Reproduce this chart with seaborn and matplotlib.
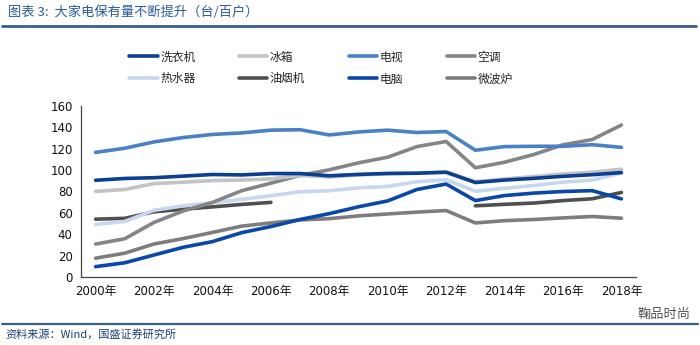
import matplotlib
matplotlib.use("Agg")
import matplotlib.pyplot as plt
import seaborn as sns
import numpy as np
import pandas as pd
from matplotlib.lines import Line2D

years = list(range(2000, 2019))
tick_labels = [f"{y}年" for y in years]

washer = [90.5, 92.2, 92.9, 94.4, 95.9, 95.5, 96.8, 96.8, 94.7, 96.0, 96.9, 97.1, 98.0, 88.4, 90.7, 92.3, 94.2, 95.7, 97.7]
fridge = [80.1, 81.9, 87.4, 88.7, 90.2, 90.7, 91.8, 95.0, 93.6, 95.4, 96.6, 97.2, 98.5, 89.2, 91.7, 94.0, 96.4, 98.0, 100.9]
tv = [116.6, 120.5, 126.4, 130.5, 133.4, 134.8, 137.4, 137.8, 132.9, 135.7, 137.4, 135.2, 136.1, 118.6, 122.0, 122.3, 122.3, 123.8, 121.3]
ac = [30.8, 35.8, 51.1, 61.8, 69.8, 80.7, 87.8, 95.1, 100.3, 106.8, 112.1, 122.0, 126.8, 102.2, 107.4, 114.6, 123.7, 128.6, 142.2]
heater = [49.1, 52.0, 62.4, 66.6, 69.4, 72.7, 76.0, 79.8, 80.7, 83.4, 84.8, 89.1, 91.0, 80.3, 83.0, 85.6, 88.7, 90.7, 97.2]
hood = [54.1, 54.9, 61.0, 63.4, 65.6, 67.9, 69.8, None, None, None, None, None, None, 66.6, 68.0, 69.2, 71.5, 73.2, 79.1]
computer = [9.7, 13.3, 20.6, 27.8, 33.1, 41.5, 47.2, 53.8, 59.3, 65.7, 71.2, 81.9, 87.0, 71.5, 76.2, 78.5, 80.0, 80.8, 73.1]
microwave = [17.6, 22.3, 30.9, 36.0, 41.7, 47.6, 50.6, 53.4, 54.6, 57.2, 59.0, 60.7, 62.2, 50.6, 52.7, 53.8, 55.3, 56.6, 55.0]

names = ["洗衣机", "冰箱", "电视", "空调", "热水器", "油烟机", "电脑", "微波炉"]
series = [washer, fridge, tv, ac, heater, hood, computer, microwave]
colors = ["#0b3f91", "#c3c3c3", "#4a80c4", "#858585", "#c6d7ef", "#4f4f4f", "#0a48a8", "#7d7d7d"]
# draw order (back to front)
order = [5, 7, 6, 4, 3, 1, 0, 2]

sns.set_theme(style="white")
plt.rcParams['font.family'] = ['DejaVu Sans', 'Noto Sans CJK SC']

fig = plt.figure(figsize=(7.0, 3.45), dpi=100)
ax = fig.add_axes([81/700, 1-277/345, (636-81)/700, (277-106)/345])

x = np.arange(len(years))
for i in order:
    vals = np.array([np.nan if v is None else v for v in series[i]], dtype=float)
    df = pd.DataFrame({"x": x, "y": vals})
    seg = np.cumsum(np.isnan(vals))
    for s in np.unique(seg[~np.isnan(vals)]):
        sub = df[(seg == s) & ~np.isnan(vals)]
        sns.lineplot(data=sub, x="x", y="y", ax=ax, color=colors[i], lw=2.6,
                     legend=False, solid_capstyle="round")

ax.set_xlim(-0.5, len(years) - 0.5)
ax.set_ylim(0, 160)
ax.set_yticks(range(0, 161, 20))
ax.set_xticks(np.arange(-0.5, len(years), 1.0))
ax.set_xticklabels([])
ax.set_xticks(x[::2], minor=True)
ax.set_xticklabels(tick_labels[::2], minor=True)
ax.tick_params(axis="x", which="major", direction="in", length=4, width=0.8, color="#333333")
ax.tick_params(axis="x", which="minor", length=0, labelsize=8.5, pad=6, labelcolor="#111111")
ax.tick_params(axis="y", direction="in", length=4, width=0.8, color="#333333", labelsize=8.5, labelcolor="#111111", pad=6)
ax.set_xlabel("")
ax.set_ylabel("")
for sp in ["top", "right"]:
    ax.spines[sp].set_visible(False)
for sp in ["left", "bottom"]:
    ax.spines[sp].set_color("#444444")
    ax.spines[sp].set_linewidth(0.9)

# legend (column-major fill -> reorder so rows read like reference)
leg_order = [0, 4, 1, 5, 2, 6, 3, 7]
handles = [Line2D([0], [0], color=colors[i], lw=2.6) for i in leg_order]
labels = [names[i] for i in leg_order]
leg = fig.legend(handles, labels, loc="center", bbox_to_anchor=(321/700, 1-68/345),
                 ncol=4, frameon=False, handlelength=2.4, handletextpad=0.2,
                 columnspacing=3.7, labelspacing=0.75,
                 prop={'family': ['Noto Sans CJK SC'], 'size': 8.5})

# title and rules
fig.text(8/700, 1-12/345, "图表 3:  大家电保有量不断提升（台/百户）", fontsize=9.5,
         color="#2a5a9a", va="center", ha="left", family=['Noto Sans CJK SC', 'DejaVu Sans'])
fig.add_artist(Line2D([2/700, 696/700], [1-26/345, 1-26/345], color="#3a5f85", lw=2.0))
fig.add_artist(Line2D([2/700, 698/700], [1-324/345, 1-324/345], color="#3a5f85", lw=1.6))
fig.text(5/700, 1-334/345, "资料来源：Wind，国盛证券研究所", fontsize=8,
         color="#1f3f77", va="center", ha="left", family=['Noto Sans CJK SC', 'DejaVu Sans'])
fig.text(690/700, 1-314/345, "鞠品时尚", fontsize=9.5, color="#555555", va="center", ha="right",
         family=['Noto Sans CJK SC', 'DejaVu Sans'])

fig.savefig("out.png", dpi=100)
